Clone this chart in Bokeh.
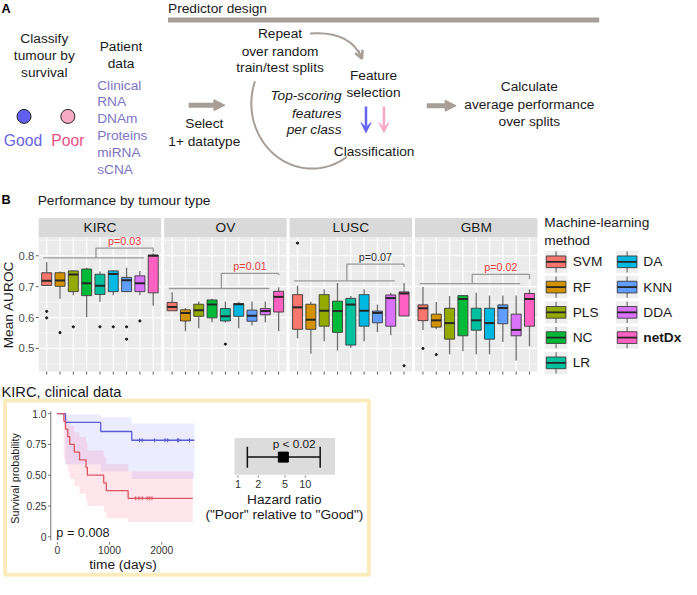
import numpy as np
from bokeh.plotting import figure
from bokeh.models import Range1d, Arrow, NormalHead, VeeHead, OpenHead
from bokeh.core.properties import value
from bokeh.embed import file_html
from bokeh.resources import INLINE

# ------------------------------------------------------------------ data
METHODS = ["SVM", "RF", "PLS", "NC", "LR", "DA", "KNN", "DDA", "netDx"]
METHOD_COLORS = ["#F8766D", "#D39200", "#93AA00", "#00BA38", "#00C19F",
                 "#00B9E3", "#619CFF", "#DB72FB", "#FF61C3"]
TUMOURS = ["KIRC", "OV", "LUSC", "GBM"]

KIRC_LO  = [0.703, 0.661, 0.672, 0.601, 0.651, 0.672, 0.682, 0.672, 0.638]
KIRC_Q1  = [0.704, 0.701, 0.684, 0.671, 0.675, 0.684, 0.684, 0.684, 0.680]
KIRC_MED = [0.719, 0.720, 0.739, 0.711, 0.703, 0.741, 0.721, 0.711, 0.800]
KIRC_Q3  = [0.745, 0.745, 0.751, 0.757, 0.740, 0.751, 0.730, 0.735, 0.802]
KIRC_HI  = [0.780, 0.749, 0.752, 0.761, 0.749, 0.753, 0.761, 0.751, 0.808]
KIRC_OUT_M = ["SVM", "SVM", "RF", "PLS", "LR", "DA", "KNN", "KNN", "DDA"]
KIRC_OUT_V = [0.620, 0.599, 0.551, 0.570, 0.570, 0.570, 0.570, 0.530, 0.589]

OV_LO  = [0.622, 0.556, 0.565, 0.585, 0.584, 0.565, 0.574, 0.585, 0.556]
OV_Q1  = [0.622, 0.589, 0.604, 0.599, 0.589, 0.604, 0.588, 0.609, 0.618]
OV_MED = [0.634, 0.615, 0.624, 0.642, 0.604, 0.643, 0.606, 0.621, 0.667]
OV_Q3  = [0.649, 0.625, 0.643, 0.657, 0.629, 0.645, 0.624, 0.629, 0.685]
OV_HI  = [0.682, 0.631, 0.652, 0.661, 0.652, 0.651, 0.652, 0.652, 0.698]
OV_OUT_M = ["LR"]
OV_OUT_V = [0.514]

LUSC_LO  = [0.533, 0.483, 0.523, 0.493, 0.502, 0.523, 0.553, 0.543, 0.605]
LUSC_Q1  = [0.562, 0.562, 0.572, 0.552, 0.511, 0.572, 0.583, 0.572, 0.605]
LUSC_MED = [0.633, 0.593, 0.622, 0.621, 0.642, 0.622, 0.615, 0.663, 0.678]
LUSC_Q3  = [0.674, 0.643, 0.674, 0.653, 0.662, 0.674, 0.621, 0.673, 0.683]
LUSC_HI  = [0.703, 0.651, 0.692, 0.712, 0.670, 0.692, 0.642, 0.680, 0.712]
LUSC_OUT_M = ["SVM", "netDx"]
LUSC_OUT_V = [0.841, 0.444]

GBM_LO  = [0.560, 0.562, 0.481, 0.491, 0.481, 0.481, 0.521, 0.461, 0.507]
GBM_Q1  = [0.590, 0.569, 0.530, 0.541, 0.559, 0.530, 0.580, 0.541, 0.572]
GBM_MED = [0.630, 0.591, 0.582, 0.660, 0.591, 0.582, 0.631, 0.560, 0.660]
GBM_Q3  = [0.641, 0.611, 0.630, 0.671, 0.630, 0.630, 0.641, 0.611, 0.678]
GBM_HI  = [0.699, 0.650, 0.670, 0.672, 0.680, 0.671, 0.671, 0.671, 0.691]
GBM_OUT_M = ["SVM", "RF"]
GBM_OUT_V = [0.500, 0.480]

BOX_STATS = {
    "KIRC": (KIRC_LO, KIRC_Q1, KIRC_MED, KIRC_Q3, KIRC_HI),
    "OV": (OV_LO, OV_Q1, OV_MED, OV_Q3, OV_HI),
    "LUSC": (LUSC_LO, LUSC_Q1, LUSC_MED, LUSC_Q3, LUSC_HI),
    "GBM": (GBM_LO, GBM_Q1, GBM_MED, GBM_Q3, GBM_HI),
}
OUTLIERS = {
    "KIRC": (KIRC_OUT_M, KIRC_OUT_V),
    "OV": (OV_OUT_M, OV_OUT_V),
    "LUSC": (LUSC_OUT_M, LUSC_OUT_V),
    "GBM": (GBM_OUT_M, GBM_OUT_V),
}

P_LABELS = ["p=0.03", "p=0.01", "p=0.07", "p=0.02"]
P_SIGNIFICANT = [True, True, False, True]
BRACKET_BASE = [0.793, 0.694, 0.719, 0.710]
BRACKET_TOP = [0.825, 0.743, 0.773, 0.740]
BRACKET_END = [0.812, 0.737, 0.764, 0.724]

AUROC_TICKS = [0.5, 0.6, 0.7, 0.8]
AUROC_TICK_LABELS = ["0.5", "0.6", "0.7", "0.8"]
AUROC_MINOR = [0.45, 0.55, 0.65, 0.75, 0.85]
AUROC_LIM = (0.425, 0.859)

DATATYPES = ["Clinical", "RNA", "DNAm", "Proteins", "miRNA", "sCNA"]

# Kaplan-Meier (KIRC, clinical data)
GOOD_T = [0, 156, 831, 1425]
GOOD_END = 2625
GOOD_S = [1.0, 0.929, 0.855, 0.784]
GOOD_LOWER = [1.0, 0.59, 0.53, 0.47]
GOOD_UPPER = [1.0, 0.995, 0.97, 0.92]
GOOD_CENSOR_T = [1575, 1625, 1862, 2062, 2112, 2300, 2325, 2531]

POOR_T = [0, 125, 156, 200, 237, 325, 425, 550, 575, 888, 938, 1356]
POOR_END = 2594
POOR_S = [1.0, 0.9375, 0.875, 0.8125, 0.75, 0.6875, 0.625, 0.5625, 0.5,
          0.4375, 0.375, 0.3125]
POOR_LOWER = [1.0, 0.63, 0.59, 0.53, 0.47, 0.41, 0.35, 0.30, 0.25, 0.20, 0.15, 0.12]
POOR_UPPER = [1.0, 0.99, 0.97, 0.94, 0.90, 0.85, 0.81, 0.76, 0.70, 0.65, 0.59, 0.53]
POOR_CENSOR_T = [1500, 1562, 1625, 1719, 1762, 1812]

KM_S_TICKS = [0, 0.25, 0.5, 0.75, 1.0]
KM_S_LABELS = ["0", "0.25", "0.50", "0.75", "1.0"]
KM_T_TICKS = [0, 1000, 2000]
KM_T_LABELS = ["0", "1000", "2000"]

# Hazard ratio
HR_EST = 4.72
HR_LO = 1.38
HR_HI = 16.6
HR_LIM = (0.89, 27.5)
HR_TICKS = [1, 2, 5, 10]
HR_P = "p < 0.02"

# ------------------------------------------------------------------ canvas
W, H = 681, 579
RX = (2.0, 697.0)
RY = (595.0, -1.0)
FS = 0.98
FONT = "Liberation Sans"

p = figure(width=W, height=H, x_range=Range1d(*RX), y_range=Range1d(*RY),
           output_backend="svg", toolbar_location=None,
           x_axis_type=None, y_axis_type=None)
p.min_border_left = p.min_border_right = p.min_border_top = p.min_border_bottom = 0
p.outline_line_color = None
p.background_fill_color = "white"
p.border_fill_color = "white"


def xmap(d0, r0, d1, r1):
    b = (d1 - d0) / (r1 - r0)
    return Range1d(start=d0 + (RX[0] - r0) * b, end=d0 + (RX[1] - r0) * b)


def ymap(d0, r0, d1, r1):
    b = (d1 - d0) / (r1 - r0)
    return Range1d(start=d0 + (RY[0] - r0) * b, end=d0 + (RY[1] - r0) * b)


def txt(x, y, s, size=14, color="#1a1a1a", align="center", baseline="middle",
        style="normal", angle=0, xr="default", yr="default", yoff=0):
    p.text(x=[x], y=[y], text=[s], text_font=value(FONT),
           text_font_size=value(f"{size * FS:.1f}px"), text_color=color,
           text_align=align, text_baseline=baseline, text_font_style=style,
           angle=angle, y_offset=yoff, x_range_name=xr, y_range_name=yr)


GRAY = "#a69e97"

# ------------------------------------------------------------------ panel A
txt(3, 8, "A", 13, "#000000", align="left", style="bold")
txt(173, 7.5, "Predictor design", 14, align="left")
p.segment(x0=[173], y0=[19], x1=[613], y1=[19], line_color=GRAY, line_width=5)

for yy, s in zip([38.3, 56, 73.3], ["Classify", "tumour by", "survival"]):
    txt(46.7, yy, s, 14)
txt(125, 46.7, "Patient", 14)
txt(125, 64, "data", 14)
for i, s in enumerate(DATATYPES):
    txt(100.7, 86 + 17.46 * i, s, 14, "#7d74c4", align="left")

p.scatter(x=[26, 70.7], y=[118.3, 118.3], size=14, marker="circle",
          fill_color=["#5f5ff0", "#f7aac4"], line_color="#222222", line_width=1)
txt(25, 143.3, "Good", 16, "#6a63e6")
txt(70.7, 143.3, "Poor", 16, "#ec4f85")

p.add_layout(Arrow(end=NormalHead(size=11, fill_color=GRAY, line_color=GRAY),
                   x_start=194, y_start=106.7, x_end=231, y_end=106.7,
                   line_color=GRAY, line_width=5))
txt(210, 126, "Select", 14)
txt(210, 144, "1+ datatype", 14)

txt(287.3, 33.3, "Repeat", 14)
txt(287.3, 51, "over random", 14)
txt(287.3, 68.3, "train/test splits", 14)
txt(350, 97.3, "Top-scoring", 14, align="right", style="italic")
txt(350, 115, "features", 14, align="right", style="italic")
txt(350, 132.3, "per class", 14, align="right", style="italic")
txt(382.7, 76, "Feature", 14)
txt(382.7, 93.3, "selection", 14)
txt(383.3, 154, "Classification", 14)

# repeat loop arcs
p.quadratic(x0=[318], y0=[33], x1=[370], y1=[57], cx=[358], cy=[30],
            line_color=GRAY, line_width=2)
p.add_layout(Arrow(end=OpenHead(size=8, line_color=GRAY, line_width=2.5),
                   x_start=367, y_start=50, x_end=371, y_end=59,
                   line_color=GRAY, line_width=2))
th = np.radians(np.linspace(160, 305, 80))
p.line(x=320 + 62 * np.cos(th), y=105 - 67 * np.sin(th), line_color=GRAY, line_width=2)

p.add_layout(Arrow(end=VeeHead(size=10, fill_color="#6464f0", line_color="#6464f0"),
                   x_start=375, y_start=108, x_end=375, y_end=135,
                   line_color="#6464f0", line_width=2.5))
p.add_layout(Arrow(end=VeeHead(size=10, fill_color="#f7a8c8", line_color="#f7a8c8"),
                   x_start=393.3, y_start=108, x_end=393.3, y_end=135,
                   line_color="#f7a8c8", line_width=2.5))

p.add_layout(Arrow(end=NormalHead(size=11, fill_color=GRAY, line_color=GRAY),
                   x_start=437, y_start=107.3, x_end=467, y_end=107.3,
                   line_color=GRAY, line_width=5))
txt(541.7, 87.7, "Calculate", 14)
txt(541.7, 106.3, "average performance", 14)
txt(541.7, 124, "over splits", 14)

# ------------------------------------------------------------------ panel B
txt(3, 204, "B", 13, "#000000", align="left", style="bold")
txt(40, 205, "Performance by tumour type", 14, align="left")

FACET_X0 = [41, 169, 297, 425]
FACET_W = 125
STRIP_TOP, PANEL_TOP, PANEL_BOT = 223, 243, 381
X_LIM = (0.4, 9.6)
X = np.arange(1, len(METHODS) + 1)
BOX_HALF = 0.375
BR_L, BR_R, BR_MID, BR_END = 0.75, 8.3, 4.7, 9.0

p.extra_y_ranges["auroc"] = ymap(AUROC_LIM[0], PANEL_BOT, AUROC_LIM[1], PANEL_TOP)
v_per_px = (AUROC_LIM[1] - AUROC_LIM[0]) / (PANEL_BOT - PANEL_TOP)

for k, tum in enumerate(TUMOURS):
    x0 = FACET_X0[k]
    xr = f"facet{k}"
    p.extra_x_ranges[xr] = xmap(X_LIM[0], x0, X_LIM[1], x0 + FACET_W)
    kw = dict(x_range_name=xr, y_range_name="auroc")

    # strip
    p.quad(left=[x0], right=[x0 + FACET_W], top=[STRIP_TOP], bottom=[PANEL_TOP],
           fill_color="#d9d9d9", line_color=None)
    txt(x0 + FACET_W / 2, (STRIP_TOP + PANEL_TOP) / 2, tum, 14, "#1a1a1a")

    # panel + grid
    p.quad(left=[X_LIM[0]], right=[X_LIM[1]], bottom=[AUROC_LIM[0]], top=[AUROC_LIM[1]],
           fill_color="#ebebeb", line_color=None, **kw)
    p.segment(x0=[X_LIM[0]] * len(AUROC_MINOR), y0=AUROC_MINOR,
              x1=[X_LIM[1]] * len(AUROC_MINOR), y1=AUROC_MINOR,
              line_color="white", line_width=0.6, **kw)
    p.segment(x0=[X_LIM[0]] * len(AUROC_TICKS), y0=AUROC_TICKS,
              x1=[X_LIM[1]] * len(AUROC_TICKS), y1=AUROC_TICKS,
              line_color="white", line_width=1.2, **kw)
    p.segment(x0=X, y0=[AUROC_LIM[0]] * len(X), x1=X, y1=[AUROC_LIM[1]] * len(X),
              line_color="white", line_width=1.2, **kw)
    p.segment(x0=X, y0=[AUROC_LIM[0]] * len(X), x1=X,
              y1=[AUROC_LIM[0] - 3 * v_per_px] * len(X),
              line_color="#333333", line_width=0.8, **kw)

    lo, q1, med, q3, hi = BOX_STATS[tum]
    p.segment(x0=X, y0=hi, x1=X, y1=q3, line_color="#6e6e6e", line_width=1.3, **kw)
    p.segment(x0=X, y0=q1, x1=X, y1=lo, line_color="#6e6e6e", line_width=1.3, **kw)
    p.quad(left=X - BOX_HALF, right=X + BOX_HALF, bottom=q1, top=q3,
           fill_color=METHOD_COLORS, line_color="#3a3a3a", line_width=0.9, **kw)
    p.segment(x0=X - BOX_HALF, y0=med, x1=X + BOX_HALF, y1=med,
              line_color="#262626", line_width=2, **kw)
    om, ov = OUTLIERS[tum]
    p.scatter(x=[METHODS.index(m) + 1 for m in om], y=ov, size=2.2,
              color="#1a1a1a", **kw)

    # comparison bracket
    b, t, e = BRACKET_BASE[k], BRACKET_TOP[k], BRACKET_END[k]
    p.multi_line(xs=[[BR_L, BR_R], [BR_MID, BR_MID, BR_END, BR_END]],
                 ys=[[b, b], [b, t, t, e]], line_color="#9a9a9a", line_width=1.3, **kw)
    txt((BR_MID + BR_END) / 2, t, P_LABELS[k], 11,
        "#e8423f" if P_SIGNIFICANT[k] else "#333333",
        baseline="bottom", xr=xr, yr="auroc", yoff=-1)

# y axis of the facet row
for v, lab in zip(AUROC_TICKS, AUROC_TICK_LABELS):
    txt(36.5, v, lab, 11.5, "#4d4d4d", align="right", yr="auroc")
p.segment(x0=[38] * 4, y0=AUROC_TICKS, x1=[41] * 4, y1=AUROC_TICKS,
          line_color="#333333", line_width=0.8, y_range_name="auroc")
txt(10, 312, "Mean AUROC", 14, "#1a1a1a", angle=np.pi / 2)

# legend
txt(557, 228, "Machine-learning", 14, align="left")
txt(557, 246, "method", 14, align="left")
for i, (m, c) in enumerate(zip(METHODS, METHOD_COLORS)):
    col, row = divmod(i, 5)
    cx = [569, 641.5][col]
    cy = 268 + 26 * row
    p.quad(left=[cx - 11.5], right=[cx + 11.5], top=[cy - 11.5], bottom=[cy + 11.5],
           fill_color="#efefef", line_color=None)
    p.segment(x0=[cx, cx], y0=[cy - 11, cy + 6], x1=[cx, cx], y1=[cy - 6, cy + 11],
              line_color="#6e6e6e", line_width=1.2)
    p.quad(left=[cx - 10], right=[cx + 10], top=[cy - 6], bottom=[cy + 6],
           fill_color=c, line_color="#3a3a3a", line_width=0.9)
    p.segment(x0=[cx - 10], y0=[cy], x1=[cx + 10], y1=[cy],
              line_color="#262626", line_width=1.8)
    txt([586, 658][col], cy, m, 14, "#1a1a1a", align="left",
        style="bold" if m == "netDx" else "normal")

# ------------------------------------------------------------------ panel C
txt(3, 402, "KIRC, clinical data", 15, align="left")
p.quad(left=[6.7], right=[378], top=[410.7], bottom=[590],
       fill_color=None, line_color="#fcebbd", line_width=4)

p.extra_x_ranges["km_t"] = xmap(0, 60, 1000, 113.3)
p.extra_y_ranges["km_s"] = ymap(0, 551, 1, 424.3)
km = dict(x_range_name="km_t", y_range_name="km_s")

good_right = GOOD_T[1:] + [GOOD_END]
poor_right = POOR_T[1:] + [POOR_END]
p.quad(left=GOOD_T, right=good_right, bottom=GOOD_LOWER, top=GOOD_UPPER,
       fill_color="#6a6aff", fill_alpha=0.13, line_color=None, **km)
p.quad(left=POOR_T, right=poor_right, bottom=POOR_LOWER, top=POOR_UPPER,
       fill_color="#ff4a78", fill_alpha=0.14, line_color=None, **km)
p.step(x=GOOD_T + [GOOD_END], y=GOOD_S + [GOOD_S[-1]], mode="after",
       line_color="#5b5bd6", line_width=1.3, **km)
p.step(x=POOR_T + [POOR_END], y=POOR_S + [POOR_S[-1]], mode="after",
       line_color="#dc5460", line_width=1.3, **km)
p.scatter(x=GOOD_CENSOR_T, y=[GOOD_S[-1]] * len(GOOD_CENSOR_T), marker="cross",
          size=4, line_color="#5b5bd6", line_width=1, **km)
p.scatter(x=POOR_CENSOR_T, y=[POOR_S[-1]] * len(POOR_CENSOR_T), marker="cross",
          size=4, line_color="#dc5460", line_width=1, **km)

# KM axes
p.segment(x0=[53.3], y0=[-0.03], x1=[53.3], y1=[1.02], line_color="#777777",
          line_width=1, y_range_name="km_s")
p.segment(x0=[50.5] * 5, y0=KM_S_TICKS, x1=[53.3] * 5, y1=KM_S_TICKS,
          line_color="#555555", line_width=0.8, y_range_name="km_s")
for v, lab in zip(KM_S_TICKS, KM_S_LABELS):
    txt(49, v, lab, 10.5, "#333333", align="right", yr="km_s")
p.segment(x0=KM_T_TICKS, y0=[556.5] * 3, x1=KM_T_TICKS, y1=[559] * 3,
          line_color="#555555", line_width=0.8, x_range_name="km_t")
for v, lab in zip(KM_T_TICKS, KM_T_LABELS):
    txt(v, 565, lab, 10.5, "#333333", xr="km_t")
txt(127, 580, "time (days)", 14)
txt(16.5, 491, "Survival probability", 11, angle=np.pi / 2)
txt(59, 546.7, "p = 0.008", 13, align="left")

# hazard ratio
p.extra_x_ranges["hr"] = xmap(0, 244.3, 1, 313.1)
lg = np.log10
p.quad(left=[lg(HR_LIM[0])], right=[lg(HR_LIM[1])], top=[449.3], bottom=[487.3],
       fill_color="#dcdcdc", line_color=None, x_range_name="hr")
p.segment(x0=[lg(HR_LO)], y0=[469], x1=[lg(HR_HI)], y1=[469],
          line_color="#111111", line_width=1.5, x_range_name="hr")
p.segment(x0=[lg(HR_LO), lg(HR_HI)], y0=[458.3, 458.3], x1=[lg(HR_LO), lg(HR_HI)],
          y1=[480, 480], line_color="#111111", line_width=1.5, x_range_name="hr")
p.scatter(x=[lg(HR_EST)], y=[469], marker="square", size=10, color="#000000",
          x_range_name="hr")
txt(301.7, 456, HR_P, 12)
p.segment(x0=[lg(t) for t in HR_TICKS], y0=[488] * 4, x1=[lg(t) for t in HR_TICKS],
          y1=[490] * 4, line_color="#555555", line_width=0.8, x_range_name="hr")
for t in HR_TICKS:
    txt(lg(t), 496.7, str(t), 11, "#333333", xr="hr")
txt(291.7, 512.7, "Hazard ratio", 14)
txt(291.7, 527.7, '("Poor" relative to "Good")', 14)

open("out.html", "w").write(file_html(p, INLINE))
